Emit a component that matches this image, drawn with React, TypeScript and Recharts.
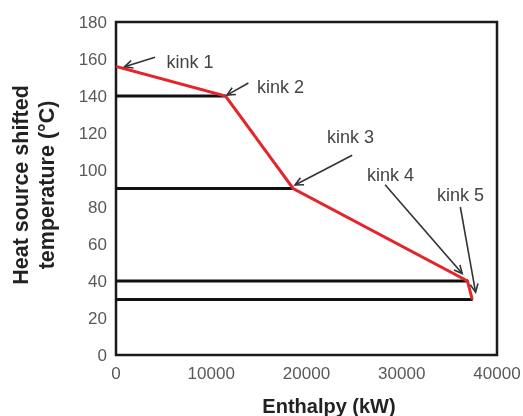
import {
  Line,
  LineChart,
  ReferenceArea,
  ReferenceDot,
  ReferenceLine,
  XAxis,
  YAxis,
} from "recharts";

// heat source composite curve (red)
const curveEnthalpy = [0, 11500, 18600, 36900, 37400];
const curveTemp = [156, 140, 90, 40, 30];

// black horizontal levels, from 0 to the end enthalpy
const levelTemp = [140, 90, 40, 30];
const levelEnd = [11500, 18600, 36950, 37450];

// kink annotations
const kinkLabels = ["kink 1", "kink 2", "kink 3", "kink 4", "kink 5"];
const kinkTextX = [5300, 14800, 22150, 26350, 33700];
const kinkTextY = [158.4, 144.9, 117.8, 97.3, 86.5];
const arrowFromX = [4100, 13900, 24800, 28250, 36150];
const arrowFromY = [161, 147, 108, 92, 80];
const arrowToX = [900, 11650, 18800, 36350, 37750];
const arrowToY = [155.8, 140.5, 91.9, 44, 34];

const xTicks = [0, 10000, 20000, 30000, 40000];
const yTicks = [0, 20, 40, 60, 80, 100, 120, 140, 160, 180];

const curveData = curveEnthalpy.map((h, i) => ({ h, t: curveTemp[i] }));
const levelData = levelTemp.map((t, i) => [
  { h: 0, t },
  { h: levelEnd[i], t },
]);

const FONT = '"Liberation Sans", Arial, sans-serif';

function Arrow(props: any) {
  const { x1, y1, x2, y2 } = props;
  const ang = Math.atan2(y2 - y1, x2 - x1);
  const len = 9;
  const spread = 0.45;
  const ax = x2 - len * Math.cos(ang - spread);
  const ay = y2 - len * Math.sin(ang - spread);
  const bx = x2 - len * Math.cos(ang + spread);
  const by = y2 - len * Math.sin(ang + spread);
  return (
    <g stroke="#333" strokeWidth={1.6} fill="none">
      <line x1={x1} y1={y1} x2={x2} y2={y2} />
      <polyline points={`${ax},${ay} ${x2},${y2} ${bx},${by}`} />
    </g>
  );
}

function KinkText({ cx, cy, text }: any) {
  return (
    <text
      x={cx}
      y={cy}
      dominantBaseline="central"
      fontFamily={FONT}
      fontSize={18}
      fill="#444"
    >
      {text}
    </text>
  );
}

export default function App() {
  return (
    <div style={{ position: "fixed", left: 0, top: 0, width: 523, height: 416 }}>
      <LineChart
        width={523}
        height={416}
        margin={{ top: 22, right: 26, bottom: 0, left: 0 }}
      >
        <XAxis
          type="number"
          dataKey="h"
          domain={[0, 40000]}
          ticks={xTicks}
          allowDataOverflow
          axisLine={false}
          tickLine={false}
          tickMargin={6}
          height={61}
          tick={{ fill: "#595959", fontSize: 17, fontFamily: FONT }}
          label={{
            content: () => (
              <text
                x={329}
                y={406}
                textAnchor="middle"
                dominantBaseline="central"
                fontFamily={FONT}
                fontWeight="bold"
                fontSize={20}
                fill="#222"
              >
                Enthalpy (kW)
              </text>
            ),
          }}
        />
        <YAxis
          type="number"
          dataKey="t"
          domain={[0, 180]}
          ticks={yTicks}
          allowDataOverflow
          axisLine={false}
          tickLine={false}
          tickMargin={3}
          width={116}
          tick={{ fill: "#595959", fontSize: 17, fontFamily: FONT }}
          label={{
            content: () => (
              <text
                transform="translate(34,185) rotate(-90)"
                textAnchor="middle"
                fontFamily={FONT}
                fontWeight="bold"
                fontSize={21.5}
                fill="#222"
              >
                <tspan x={0} y={-6}>
                  Heat source shifted
                </tspan>
                <tspan x={0} y={20}>
                  temperature (°C)
                </tspan>
              </text>
            ),
          }}
        />
        <ReferenceArea
          x1={0}
          x2={40000}
          y1={0}
          y2={180}
          fill="none"
          stroke="#1a1a1a"
          strokeWidth={2.5}
        />
        {levelData.map((d, i) => (
          <Line
            key={i}
            data={d}
            dataKey="t"
            stroke="#111"
            strokeWidth={3}
            dot={false}
            isAnimationActive={false}
          />
        ))}
        <Line
          data={curveData}
          dataKey="t"
          stroke="#e3262c"
          strokeWidth={3}
          dot={false}
          isAnimationActive={false}
        />
        {kinkLabels.map((k, i) => (
          <ReferenceLine
            key={"a" + i}
            segment={[
              { x: arrowFromX[i], y: arrowFromY[i] },
              { x: arrowToX[i], y: arrowToY[i] },
            ]}
            shape={Arrow}
          />
        ))}
        {kinkLabels.map((k, i) => (
          <ReferenceDot
            key={"t" + i}
            x={kinkTextX[i]}
            y={kinkTextY[i]}
            r={0}
            shape={(p: any) => <KinkText {...p} text={k} />}
          />
        ))}
      </LineChart>
    </div>
  );
}
